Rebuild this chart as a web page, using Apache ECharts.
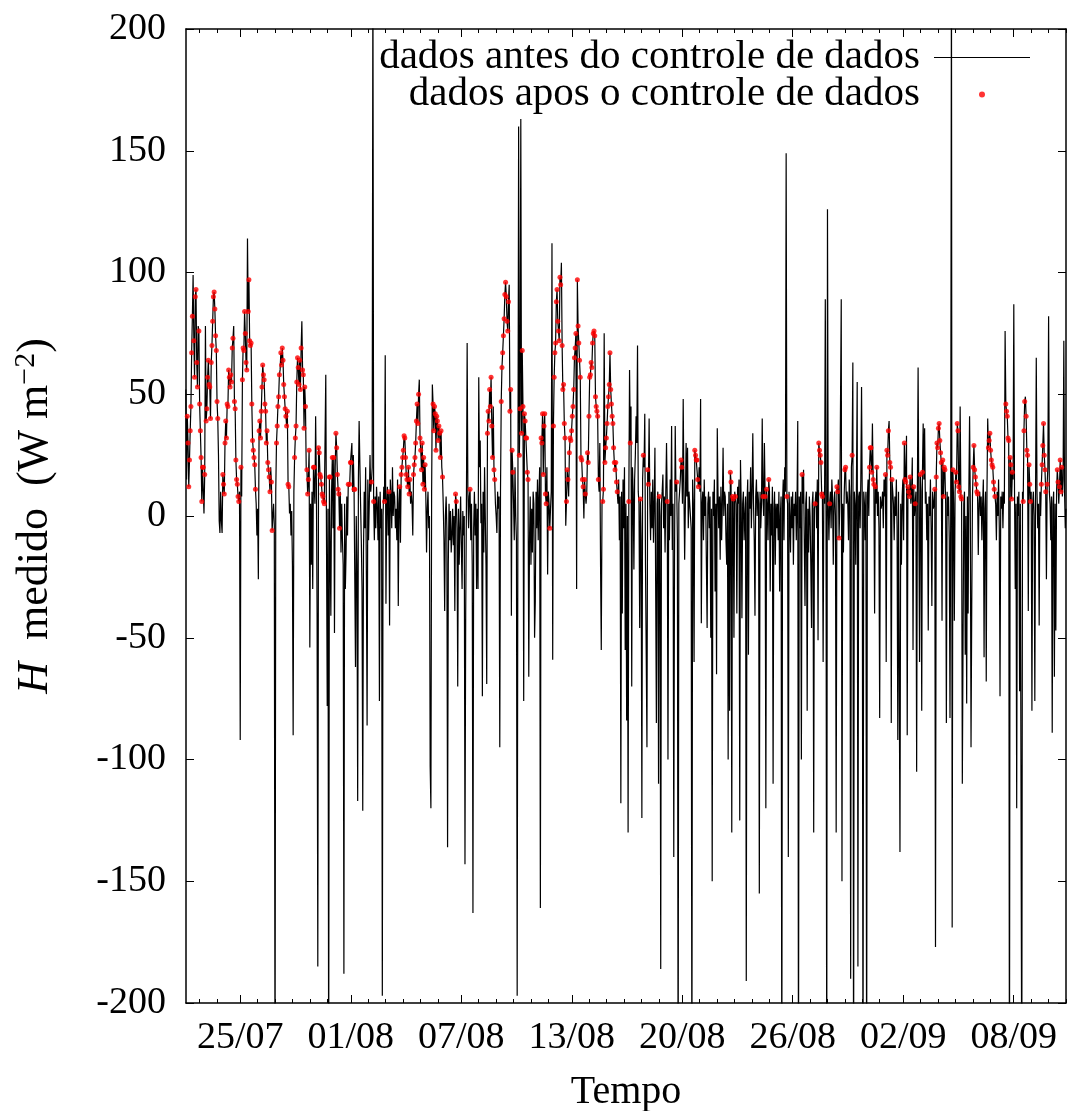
<!DOCTYPE html>
<html><head><meta charset="utf-8">
<script src="https://cdn.jsdelivr.net/npm/echarts@6/dist/echarts.min.js"></script>
<style>html,body{margin:0;padding:0;background:#fff}#c{width:1067px;height:1111px}</style>
</head><body><div id="c"></div>
<script>
// hourly series, first value at 22/07 19:00 ; x unit = day of July (32 = 01/08 00:00)
const startDay = 22 + 19 / 24;

const hWeek1 = [
 52,15,41,30,12,23,35,45,67,82,99,72,57,90,93,63,53,78,76,46,35,24,6,20,
 20,1,17,78,39,44,57,64,54,53,40,63,70,80,90,92,85,74,68,47,40,25,-2,-7,
 10,-2,-7,17,13,9,30,39,32,46,45,60,57,53,58,55,69,73,78,47,44,23,15,13,
 8,6,10,-92,20,8,56,69,68,84,75,63,60,114,84,97,72,70,71,46,31,27,24,21,
 11,5,-8,3,-26,35,39,32,43,53,62,58,56,46,43,30,35,22,19,16,10,20,14,-6,
 0,5,-4,-240,10,30,37,45,49,58,60,67,62,69,64,54,49,44,41,37,43,13,12,1,
 5,-8,2,-20,-90,10,24,32,37,55,65,61,54,64,52,69,80,60,58,36,53,45,20,19,
 9,15,27,-54,5,-20,10,-30,20,20,5,41,15,-40,-185,28,26,17,16,13,9,8,6,5,
 5,58,-10,-78,3,-240,16,16,-41,10,24,-5,24,-48,20,34,28,17,11,9,-5,10,-15,5,
 -10,-20,-188,5,-30,-15,8,-8,13,12,13,22,22,30,10,25,11,11,-62,0,-20,-117,15,39
];
const hWeek2 = [
 39,5,-10,-30,-121,-15,10,-5,20,-25,-86,15,-10,5,25,10,14,20,230,6,-10,8,-5,12,
 5,-10,8,-76,10,-5,3,-197,0,12,6,66,-36,5,12,-8,10,-45,15,8,-5,20,0,10,
 8,-5,3,-10,15,-37,5,12,-11,17,20,24,27,33,32,24,17,15,12,20,9,15,5,10,
 5,-8,17,21,24,30,39,46,38,50,56,32,27,19,30,13,24,11,21,8,-15,3,10,-5,
 0,-103,-120,10,54,46,35,45,42,27,41,39,31,37,34,24,35,20,16,5,-10,-39,0,8,
 -5,-136,-20,5,-10,2,-15,-8,3,-12,0,-39,9,6,-5,-70,3,-20,-5,8,-12,-30,2,-8,
 0,-143,-40,5,71,10,-5,8,11,-10,5,-20,-163,-5,10,-8,5,-30,3,-30,57,20,31,-3,
 5,-74,10,-15,20,0,-20,-69,34,43,39,52,45,57,37,24,45,19,15,5,0,-7,10,3,
 8,-95,10,47,61,67,74,81,91,96,90,80,76,88,95,43,52,-41,27,18,5,-10,20,0,
 -10,-197,5,160,25,44,163,34,68,45,-76,42,39,32,32,18,15,-66,-10,8,-20,3,-15,10
];
const hWeek3 = [
 5,-50,-35,10,-5,15,-10,8,20,-161,32,30,42,17,37,42,9,5,20,-24,10,5,-5,3,
 10,112,-59,37,57,67,71,88,93,80,76,72,98,95,104,70,52,54,38,32,-4,6,19,15,
 8,26,32,31,35,41,45,52,65,69,75,-30,97,78,71,64,57,24,23,15,12,-1,15,9,
 5,10,26,22,41,57,58,63,61,71,75,76,74,49,45,43,41,15,10,30,-20,-55,5,6,
 11,75,22,28,32,38,45,49,54,67,52,46,41,38,28,22,19,22,14,10,5,15,-10,8,
 -118,10,-40,15,-5,20,-55,5,-84,0,-130,6,60,30,45,-70,20,10,-22,15,25,41,30,70,
 10,5,-46,7,-10,-124,15,25,20,42,-20,-57,-95,19,13,40,5,-10,10,-5,15,-11,5,28,
 28,-85,5,10,-110,8,0,-186,5,10,17,-5,8,-15,10,30,6,-100,5,-10,15,0,37,-14,
 5,-140,-19,37,10,14,-10,-240,5,10,15,23,20,5,48,10,-18,5,30,8,28,-5,10,10,
 10,-5,-240,15,5,-60,27,25,23,23,15,12,20,10,48,-44,5,10,-10,15,0,8,-20,-46
];
const hWeek4 = [
 5,10,-5,8,-50,3,-150,10,0,15,-31,5,-65,36,10,-5,8,-18,12,-10,5,28,0,10,
 8,-10,-20,5,-100,10,-80,18,14,-130,8,7,-50,10,8,5,-40,12,5,15,-125,23,5,-42,
 5,10,-10,0,8,-191,5,15,-57,10,3,20,-5,10,34,5,-10,-41,8,15,0,10,5,-155,
 10,-5,5,40,8,0,30,8,-120,11,5,-10,15,10,-31,5,-8,12,-110,3,10,-20,5,-5,
 5,-10,10,-31,0,8,-240,5,15,-10,20,10,149,8,5,-140,10,0,-15,8,-5,10,-20,5,
 0,10,-10,5,39,-240,8,-5,10,-100,17,5,19,-10,-37,5,10,-80,3,-15,8,0,-20,-46,
 5,10,-130,3,5,10,-5,15,-51,30,27,25,22,9,8,-60,10,5,89,0,-240,126,5,-10,
 5,10,-5,15,8,-20,5,10,0,-130,12,10,15,-9,5,5,89,-150,5,-15,8,19,20,5,
 10,5,-10,15,8,-190,20,25,63,-240,10,5,-20,15,55,-185,8,10,-5,15,53,5,-240,10,
 5,-10,10,-240,8,15,0,20,28,28,18,38,15,13,-40,12,5,20,0,10,-5,-83,8,3
];
const hWeek5 = [
 5,10,-5,15,8,17,-60,27,25,35,39,22,20,-85,15,10,5,-10,8,0,15,-5,-92,10,
 10,-138,5,-20,8,15,-10,30,15,14,33,-90,12,10,8,16,5,10,24,-55,12,0,5,10,
 -105,10,61,5,-60,17,10,-80,18,38,15,36,5,10,-10,5,-47,8,0,15,-5,-37,10,3,
 5,11,-177,16,30,28,36,38,31,26,22,-43,23,8,20,19,5,-85,10,0,8,-10,-83,5,
 230,-169,19,5,-43,10,18,14,38,35,12,10,45,8,7,-110,-52,5,10,-57,0,-77,8,-40,
 10,41,5,-95,-37,8,20,29,19,16,13,10,9,-16,5,10,0,8,-10,5,15,-58,3,10,
 -68,10,40,28,31,34,27,23,21,20,14,11,8,5,-10,10,0,15,-5,-74,8,3,10,-5,
 10,5,76,46,43,41,32,31,-240,24,21,7,18,15,87,10,-30,5,-120,8,0,10,-72,5,
 5,-240,10,6,35,47,49,41,27,25,-39,21,13,6,10,-80,5,10,0,-76,8,65,10,-5,
 5,-45,10,0,13,21,29,38,25,19,10,-26,13,20,82,10,5,-10,8,-89,5,10,-66,5,
 -47,10,19,14,5,12,23,10,20,8,15,72,10,-5,3
];

// hours (within each 24-h row) whose value passed the data control
const qcPassed = [
 [0,[2,9],[11,16],[18,23]], [0,2,[4,20]], [[3,17],[19,23]], [0,1,4,[6,12],[14,23]],
 [0,[5,20],22,23], [[5,9],[11,22]], [[6,15],[17,21],23], [[0,2],8,9,[15,23]],
 [6,7,10,12,[15,20]], [8,[10,12],16,17],
 [16,19], [10,16], [7,[9,21]], [[2,9],[11,18]], [[5,16],18], [12,13], [8],
 [[8,15],17,18], [[3,13],15,16,18,19], [4,5,[7,9],[11,16]],
 [[10,17],22], [[3,13],[15,19],[21,23]], [[1,10],[12,20],22,23], [[2,17],23],
 [0,[2,19]], [11,13], [3,7,13,14], [5,16], [5,11,12], [[6,11]],
 [], [7,8,10,11,14], [], [4,7,9,12], [13], [10], [4,[9,14]], [0,10,11,13,21,22],
 [7], [[7,10],12,13,15,17],
 [5,[7,9],11,12,14], [[7,9],[12,15],20,22], [5,8], [1,[3,10],[12,15]],
 [2,[6,11],13,14], [[6,12]], [[3,12]], [[3,7],[9,12]], [[3,5],[7,9],[11,13]],
 [[4,10],12], [2,3,[5,8]]
];

const tickDays = [25.92, 32.27, 38.62, 44.97, 51.32, 57.67, 64.02, 70.37];
const tickLabels = ['25/07', '01/08', '07/08', '13/08', '20/08', '26/08', '02/09', '08/09'];
const seriesNames = ['dados antes do controle de dados', 'dados apos o controle de dados'];

const H = [].concat(hWeek1, hWeek2, hWeek3, hWeek4, hWeek5);
const lineData = H.map((v, i) => [startDay + i / 24, v]);
const dotData = [];
qcPassed.forEach((spec, r) => spec.forEach(s => {
  const ab = Array.isArray(s) ? s : [s, s];
  for (let k = ab[0]; k <= ab[1]; k++) { const i = r * 24 + k; if (i < lineData.length) dotData.push(lineData[i]); }
}));

const xMin = 22.80, xMax = 73.375;
const minorDays = [];
for (let k = -1; k < tickDays.length; k++) {
  const base = tickDays[0] + k * (tickDays[1] - tickDays[0]);
  for (let j = 1; j <= 5; j++) { const v = +(base + j).toFixed(3); if (v > xMin && v < xMax) minorDays.push(v); }
}
const FONT = 'Liberation Serif';
const labelFor = v => { let b = 0; for (let i = 1; i < tickDays.length; i++) if (Math.abs(tickDays[i] - v) < Math.abs(tickDays[b] - v)) b = i; return tickLabels[b]; };

const lineAx = { show: true, onZero: false, lineStyle: { color: '#000', width: 1.5 } };
function xAx(pos, major, withLabel) {
  return {
    type: 'value', position: pos, min: xMin, max: xMax, gridIndex: 0,
    axisLine: major ? lineAx : { show: false, onZero: false },
    axisTick: { show: true, inside: true, length: major ? 8 : 4, customValues: major ? tickDays : minorDays, lineStyle: { color: '#000', width: 1 } },
    axisLabel: withLabel ? { show: true, customValues: tickDays, formatter: labelFor, margin: 16, fontFamily: FONT, fontSize: 38, color: '#000' } : { show: false },
    splitLine: { show: false }
  };
}
const xAxes = [xAx('bottom', true, true), xAx('bottom', false, false), xAx('top', true, false), xAx('top', false, false)];
xAxes[0].name = 'Tempo';
xAxes[0].nameLocation = 'middle';
xAxes[0].nameGap = 69;
xAxes[0].nameTextStyle = { fontFamily: FONT, fontSize: 40, color: '#000' };

const chart = echarts.init(document.getElementById('c'), null, { renderer: 'canvas' });
chart.setOption({
  animation: false,
  backgroundColor: '#fff',
  grid: { left: 186, right: 1, top: 29, bottom: 108, outerBoundsMode: 'none', containLabel: false },
  legend: {
    orient: 'vertical', right: 37, top: 37, align: 'right', padding: 0,
    itemWidth: 96, itemHeight: 6, itemGap: -4,
    textStyle: { fontFamily: FONT, fontSize: 41, lineHeight: 38, color: '#000', padding: [0, 9, 0, 0] },
    data: [
      { name: seriesNames[0], icon: 'path://M0,0L96,0L96,1.2L0,1.2Z', itemStyle: { color: '#000' } },
      { name: seriesNames[1] }
    ]
  },
  xAxis: xAxes,
  yAxis: [
    {
      type: 'value', position: 'left', min: -200, max: 200, interval: 50,
      axisLine: lineAx,
      axisTick: { inside: true, length: 8, lineStyle: { color: '#000', width: 1 } },
      axisLabel: { margin: 20, fontFamily: FONT, fontSize: 38, color: '#000' },
      splitLine: { show: false },
      name: '{it|H}\u2002medido\u2002(W m{sup|\u22122})', nameLocation: 'middle', nameGap: 127,
      nameTextStyle: { fontFamily: FONT, fontSize: 44, color: '#000',
        rich: { it: { fontFamily: FONT, fontSize: 44, fontStyle: 'italic', color: '#000' },
                sup: { fontFamily: FONT, fontSize: 30, color: '#000', padding: [0, 0, 18, 0] } } }
    },
    {
      type: 'value', position: 'right', min: -200, max: 200, interval: 50,
      axisLine: lineAx,
      axisTick: { inside: true, length: 8, lineStyle: { color: '#000', width: 1 } },
      axisLabel: { show: false }, splitLine: { show: false }
    }
  ],
  series: [
    { name: seriesNames[0], type: 'line', data: lineData, xAxisIndex: 0, yAxisIndex: 0,
      symbol: 'none', clip: true, lineStyle: { color: '#000', width: 1.2 }, itemStyle: { color: '#000' }, z: 2 },
    { name: seriesNames[1], type: 'scatter', data: dotData, xAxisIndex: 0, yAxisIndex: 0,
      symbol: 'circle', symbolSize: 5, itemStyle: { color: '#ff0000' }, z: 3 }
  ]
});
</script></body></html>
